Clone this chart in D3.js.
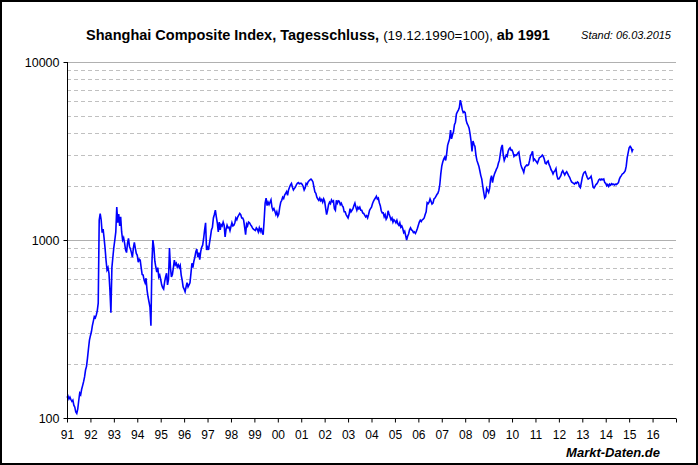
<!DOCTYPE html>
<html>
<head>
<meta charset="utf-8">
<script src="https://cdn.jsdelivr.net/npm/d3@7"></script>
<style>
  body { margin: 0; background: #fff; }
  svg { display: block; font-family: Arial, "Liberation Sans", sans-serif; }
</style>
</head>
<body>
<svg id="chart" width="698" height="465"></svg>
<script>
// half-monthly closes (24 per year)
var closes1991_1995 = [
  130,133,128,131,127,124,126,118,115,108,106,112,125,138,135,145,152,160,170,186,195,217,245,274,
  290,305,330,350,371,365,379,400,442,1296,1408,1300,1100,1150,1024,900,770,680,700,650,520,390,700,800,
  910,1000,1110,1530,1250,1400,1200,1350,1110,1000,1030,960,880,850,960,1020,920,890,850,800,900,970,900,840,
  820,750,780,770,700,640,635,595,575,610,525,480,450,420,330,742,1000,910,760,705,660,700,620,635,
  600,560,540,530,580,620,650,560,600,900,700,620,640,700,770,725,740,705,725,700,720,635,595,545
];
var closes1996_2000 = [
  530,512,545,575,545,560,575,650,740,700,760,800,860,890,800,850,775,860,910,935,1020,1140,1250,880,
  910,880,960,1040,1140,1180,1330,1390,1470,1350,1250,1110,1260,1140,1220,1200,1260,1210,1040,1150,1210,1170,1180,1130,
  1190,1250,1200,1210,1250,1330,1300,1350,1380,1410,1390,1330,1330,1290,1180,1070,1230,1200,1260,1250,1220,1200,1170,1150,
  1140,1130,1170,1150,1110,1170,1120,1170,1100,1070,1290,1610,1720,1560,1630,1580,1630,1680,1530,1470,1500,1450,1390,1440,
  1360,1400,1530,1630,1670,1740,1710,1790,1830,1870,1780,1910,1980,2040,2080,1980,1910,1950,1980,2040,2080,2100,2070,2080
];
var closes2001_2005 = [
  2080,2050,2000,1910,1960,2080,2050,2120,2150,2180,2200,2170,2120,1980,1860,1830,1740,1700,1670,1720,1660,1690,1630,1700,
  1650,1510,1390,1470,1580,1630,1600,1680,1640,1660,1500,1470,1670,1610,1660,1650,1580,1610,1560,1530,1440,1440,1390,1360,
  1330,1390,1500,1440,1470,1500,1560,1610,1530,1470,1530,1500,1530,1470,1470,1420,1410,1380,1350,1370,1330,1390,1470,1500,
  1530,1600,1650,1690,1720,1760,1700,1720,1620,1560,1460,1420,1420,1350,1390,1310,1340,1460,1400,1350,1300,1330,1260,1300,
  1280,1250,1290,1230,1210,1250,1180,1200,1160,1100,1120,1060,1000,1050,1080,1140,1170,1140,1130,1100,1110,1090,1120,1160
];
var closes2006_2010 = [
  1210,1260,1290,1270,1300,1310,1330,1390,1440,1620,1600,1630,1700,1650,1590,1610,1700,1720,1760,1800,1830,1900,2050,2350,
  2600,2740,2850,2920,2800,3050,3400,3550,3700,4150,3700,3900,4050,4450,4590,5100,5250,5370,5550,6100,5800,5400,5200,5260,
  5200,4700,4500,4400,4250,3950,3600,3150,3600,3450,3350,3000,2800,2700,2600,2450,2300,2200,2000,1850,1720,1750,1950,1900,
  1850,1950,2200,2300,2100,2250,2350,2420,2500,2560,2700,2800,3050,3300,3420,3000,2800,2900,3000,2950,3150,3250,3300,3200,
  3200,3100,2950,3000,2980,3020,3080,3120,2850,2650,2550,2480,2400,2550,2600,2640,2620,2650,2800,2980,3050,3150,2800,2850
];
var closes2011_2015 = [
  2800,2750,2700,2800,2900,2920,2950,3000,2950,2850,2700,2680,2750,2780,2650,2580,2480,2430,2350,2420,2450,2520,2300,2200,
  2200,2250,2300,2400,2450,2380,2320,2380,2420,2360,2300,2250,2180,2120,2100,2080,2060,2100,2080,2120,2100,2000,1970,2100,
  2250,2350,2400,2420,2330,2250,2200,2220,2240,2280,2150,1980,1960,2000,2050,2070,2120,2180,2200,2170,2200,2180,2200,2100,
  2080,2020,2050,2000,2060,2030,2070,2050,2060,2040,2060,2050,2070,2100,2200,2260,2300,2350,2370,2400,2450,2600,2900,3100,
  3300,3360,3300,3150,3250
];
var startYear = 1991;
var stepsPerYear = 24;

var yearTicks = d3.range(1991, 2018);
var yearLabels = ["91","92","93","94","95","96","97","98","99","00","01","02","03",
                  "04","05","06","07","08","09","10","11","12","13","14","15","16"];
var majorTicks = [100, 1000, 10000];
var minorTicks = [200,300,400,500,600,700,800,900,2000,3000,4000,5000,6000,7000,8000,9000];

(function() {
  var closes = [].concat(closes1991_1995, closes1996_2000, closes2001_2005, closes2006_2010, closes2011_2015);
  var data = closes.map(function(v, i) { return { t: startYear + i / stepsPerYear, v: v }; });

  var svg = d3.select("#chart");

  var plotLeft = 67, plotRight = 676, plotTop = 62, plotBottom = 418;

  var x = d3.scaleLinear().domain([1991, 2017]).range([plotLeft, plotRight]);
  var y = d3.scaleLog().domain([100, 10000]).range([plotBottom, plotTop]);

  // frame
  svg.append("rect")
    .attr("x", 1).attr("y", 1)
    .attr("width", 696).attr("height", 463)
    .attr("fill", "white").attr("stroke", "black").attr("stroke-width", 2);

  // gridlines
  svg.append("g").selectAll("line.minor")
    .data(minorTicks).enter().append("line")
    .attr("class", "minor")
    .attr("x1", plotLeft).attr("x2", plotRight)
    .attr("y1", function(d) { return Math.round(y(d)) + 0.5; })
    .attr("y2", function(d) { return Math.round(y(d)) + 0.5; })
    .attr("stroke", "#c0c0c0")
    .attr("stroke-dasharray", "4,3");

  svg.append("g").selectAll("line.major")
    .data([1000, 10000]).enter().append("line")
    .attr("class", "major")
    .attr("x1", plotLeft).attr("x2", plotRight)
    .attr("y1", function(d) { return Math.round(y(d)) + 0.5; })
    .attr("y2", function(d) { return Math.round(y(d)) + 0.5; })
    .attr("stroke", "#b0b0b0");

  // series
  var line = d3.line()
    .x(function(d) { return x(d.t); })
    .y(function(d) { return y(d.v); });

  svg.append("path")
    .datum(data)
    .attr("d", line)
    .attr("fill", "none")
    .attr("stroke", "#0000ff")
    .attr("stroke-width", 1.6)
    .attr("stroke-linejoin", "miter");

  // y axis
  var yAxis = d3.axisLeft(y)
    .tickValues(majorTicks)
    .tickFormat(d3.format("d"))
    .tickSize(4)
    .tickPadding(4);

  var gy = svg.append("g")
    .attr("transform", "translate(" + (plotLeft + 0.5) + ",0)")
    .call(yAxis);
  gy.select(".domain").attr("stroke", "black").attr("d", "M0," + plotTop + "V" + plotBottom);
  gy.selectAll("text").attr("font-size", 12.5).attr("fill", "black")
    .attr("font-family", "Arial, 'Liberation Sans', sans-serif");

  // x axis
  var xAxis = d3.axisBottom(x)
    .tickValues(yearTicks)
    .tickFormat(function(d, i) { return yearLabels[i] || ""; })
    .tickSize(4)
    .tickPadding(8);

  var gx = svg.append("g")
    .attr("transform", "translate(0," + (plotBottom + 0.5) + ")")
    .call(xAxis);
  gx.select(".domain").attr("stroke", "black").attr("d", "M" + plotLeft + ",0H" + plotRight);
  gx.selectAll("text").attr("font-size", 12).attr("fill", "black")
    .attr("font-family", "Arial, 'Liberation Sans', sans-serif");

  // title
  var title = svg.append("text")
    .attr("x", 318).attr("y", 40)
    .attr("text-anchor", "middle")
    .attr("font-size", 14.5)
    .attr("fill", "black");
  title.append("tspan").attr("font-weight", "bold").text("Shanghai Composite Index, Tagesschluss, ");
  title.append("tspan").attr("font-size", 13.4).text("(19.12.1990=100), ");
  title.append("tspan").attr("font-weight", "bold").text("ab 1991");

  svg.append("text")
    .attr("x", 671).attr("y", 39)
    .attr("text-anchor", "end")
    .attr("font-size", 11)
    .attr("font-style", "italic")
    .text("Stand: 06.03.2015");

  svg.append("text")
    .attr("x", 660).attr("y", 457)
    .attr("text-anchor", "end")
    .attr("font-size", 13)
    .attr("font-weight", "bold")
    .attr("font-style", "italic")
    .text("Markt-Daten.de");
})();
</script>
</body>
</html>
